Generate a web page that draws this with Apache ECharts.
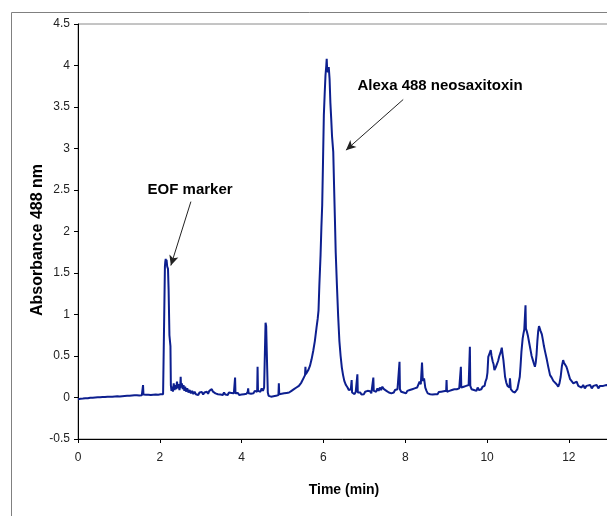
<!DOCTYPE html>
<html>
<head>
<meta charset="utf-8">
<script src="https://cdn.jsdelivr.net/npm/echarts@6/dist/echarts.min.js"></script>
<style>html,body{margin:0;padding:0;background:#fff}#c{width:607px;height:516px}</style>
</head>
<body>
<div id="c"></div>
<script>
// Axis settings / tick labels
const xTicks = [0, 2, 4, 6, 8, 10, 12];
const yTicks = [-0.5, 0, 0.5, 1, 1.5, 2, 2.5, 3, 3.5, 4, 4.5];
const xTitle = 'Time (min)';
const yTitle = 'Absorbance 488 nm';

// Trace segments [time (min), absorbance]
const baselineStart = [[0,-0.02],[0.03,0.0],[0.06,-0.015],[0.09,0.002],[0.12,-0.012],[0.15,0.004],[0.18,-0.008],[0.21,0.006],[0.24,-0.01],[0.27,0.008],[0.3,-0.004],[0.33,0.01],[0.36,-0.002],[0.39,0.012],[0.42,0.0],[0.45,0.014],[0.48,0.002],[0.51,0.012],[0.54,0.004],[0.57,0.016],[0.6,0.006],[0.63,0.018],[0.66,0.005],[0.69,0.015],[0.72,0.008],[0.75,0.02],[0.78,0.01],[0.81,0.02],[0.84,0.008],[0.87,0.022],[0.9,0.012],[0.93,0.024],[0.96,0.014],[0.99,0.026],[1.02,0.012],[1.05,0.024],[1.08,0.016],[1.11,0.03],[1.14,0.018],[1.17,0.032],[1.2,0.02],[1.23,0.03],[1.26,0.022],[1.29,0.036],[1.32,0.024],[1.35,0.04],[1.38,0.026],[1.41,0.038],[1.44,0.028],[1.47,0.034],[1.5,0.024],[1.53,0.036],[1.56,0.026],[1.58,0.03],[1.59,0.15],[1.6,0.035],[1.63,0.022],[1.66,0.034],[1.69,0.02],[1.72,0.032],[1.75,0.018],[1.78,0.03],[1.81,0.02],[1.84,0.034],[1.87,0.022],[1.9,0.036],[1.93,0.024],[1.96,0.034],[1.99,0.026],[2.02,0.038],[2.05,0.028],[2.08,0.04],[2.11,0.045]];
const eofPeak = [[2.12,0.06],[2.125,1.58],[2.135,1.64],[2.145,1.67],[2.155,1.6],[2.165,1.66],[2.18,1.58],[2.2,1.55],[2.215,1.3],[2.235,0.75],[2.26,0.62],[2.27,0.15],[2.285,0.08]];
const midSection = [[2.3,0.13],[2.32,0.07],[2.34,0.17],[2.36,0.09],[2.38,0.15],[2.4,0.1],[2.42,0.19],[2.44,0.11],[2.46,0.16],[2.48,0.09],[2.5,0.14],[2.51,0.25],[2.52,0.12],[2.54,0.17],[2.56,0.1],[2.58,0.15],[2.6,0.08],[2.62,0.13],[2.64,0.07],[2.67,0.11],[2.7,0.06],[2.73,0.09],[2.76,0.05],[2.79,0.08],[2.82,0.04],[2.85,0.07],[2.88,0.04],[2.91,0.06],[2.94,0.03],[2.97,0.06],[3.0,0.04],[3.03,0.065],[3.06,0.035],[3.09,0.06],[3.12,0.04],[3.15,0.07],[3.18,0.045],[3.21,0.08],[3.24,0.06],[3.27,0.1],[3.3,0.07],[3.33,0.09],[3.36,0.05],[3.39,0.07],[3.42,0.04],[3.45,0.06],[3.48,0.035],[3.51,0.055],[3.54,0.03],[3.57,0.06],[3.6,0.035],[3.63,0.055],[3.66,0.03],[3.69,0.06],[3.72,0.04],[3.75,0.055],[3.78,0.035],[3.81,0.05],[3.83,0.04],[3.84,0.24],[3.85,0.05],[3.88,0.035],[3.91,0.055],[3.94,0.03],[3.97,0.05],[4.0,0.035],[4.03,0.055],[4.06,0.04],[4.09,0.06],[4.12,0.045],[4.15,0.07],[4.16,0.11],[4.17,0.05],[4.2,0.06],[4.23,0.045],[4.26,0.065],[4.29,0.05],[4.32,0.08],[4.35,0.06],[4.38,0.07],[4.39,0.37],[4.4,0.08],[4.43,0.1],[4.46,0.07],[4.49,0.11],[4.52,0.08],[4.55,0.12],[4.57,0.1],[4.585,0.9],[4.6,0.86],[4.615,0.55],[4.625,0.35],[4.64,0.06],[4.66,0.02],[4.69,0.035],[4.72,0.01],[4.75,0.03],[4.78,0.015],[4.81,0.035],[4.84,0.02],[4.87,0.04],[4.9,0.03],[4.91,0.17],[4.92,0.04],[4.95,0.03],[4.98,0.045],[5.01,0.03],[5.04,0.05],[5.07,0.035],[5.1,0.055],[5.13,0.04],[5.16,0.06]];
const mainPeak = [[5.19,0.05],[5.22,0.08],[5.25,0.07],[5.28,0.1],[5.31,0.09],[5.34,0.12],[5.37,0.11],[5.4,0.14],[5.43,0.15],[5.46,0.18],[5.49,0.2],[5.52,0.24],[5.55,0.27],[5.56,0.37],[5.57,0.28],[5.6,0.3],[5.63,0.33],[5.67,0.38],[5.71,0.46],[5.75,0.56],[5.79,0.68],[5.83,0.84],[5.86,0.95],[5.88,1.05],[5.9,1.35],[5.93,1.72],[5.95,2.05],[5.97,2.32],[5.99,2.85],[6.01,3.4],[6.03,3.65],[6.05,3.88],[6.07,4.0],[6.08,4.08],[6.09,3.96],[6.11,3.92],[6.13,3.98],[6.15,3.84],[6.17,3.55],[6.19,3.36],[6.21,3.15],[6.24,2.96],[6.26,2.55],[6.28,2.16],[6.3,1.75],[6.33,1.35],[6.36,0.98],[6.39,0.68],[6.42,0.5],[6.45,0.36],[6.48,0.27],[6.51,0.2],[6.55,0.15],[6.59,0.12],[6.62,0.09],[6.65,0.07]];
const lateSection = [[6.67,0.1],[6.69,0.21],[6.7,0.06],[6.73,0.08],[6.76,0.04],[6.79,0.07],[6.82,0.05],[6.83,0.28],[6.84,0.06],[6.87,0.04],[6.9,0.06],[6.93,0.035],[6.96,0.055],[6.99,0.04],[7.02,0.07],[7.05,0.05],[7.08,0.08],[7.11,0.06],[7.14,0.075],[7.17,0.05],[7.2,0.07],[7.22,0.24],[7.23,0.08],[7.26,0.1],[7.29,0.07],[7.32,0.11],[7.35,0.08],[7.38,0.12],[7.41,0.09],[7.44,0.13],[7.46,0.15],[7.48,0.1],[7.51,0.12],[7.54,0.08],[7.57,0.1],[7.6,0.06],[7.63,0.08],[7.66,0.05],[7.69,0.07],[7.72,0.06],[7.75,0.09],[7.78,0.07],[7.81,0.1],[7.84,0.08],[7.86,0.43],[7.87,0.1],[7.9,0.07],[7.93,0.09],[7.96,0.06],[7.99,0.08],[8.02,0.05],[8.05,0.08],[8.08,0.06],[8.11,0.09],[8.14,0.07],[8.17,0.1],[8.2,0.08],[8.23,0.11],[8.26,0.09],[8.29,0.12],[8.32,0.14],[8.35,0.19],[8.38,0.16],[8.41,0.42],[8.43,0.2],[8.46,0.23],[8.49,0.12],[8.52,0.08],[8.55,0.05],[8.58,0.07],[8.61,0.04],[8.64,0.06],[8.67,0.035],[8.7,0.055],[8.73,0.04],[8.76,0.06],[8.79,0.04],[8.82,0.065],[8.85,0.045],[8.88,0.07],[8.91,0.05],[8.94,0.075],[8.97,0.055],[9.0,0.08],[9.01,0.21],[9.02,0.07],[9.05,0.06],[9.08,0.08],[9.11,0.07],[9.14,0.09],[9.17,0.07],[9.2,0.1],[9.23,0.08],[9.26,0.1],[9.29,0.09],[9.32,0.11],[9.35,0.1],[9.36,0.37],[9.37,0.12],[9.4,0.1],[9.43,0.13],[9.46,0.11],[9.49,0.14],[9.52,0.12],[9.55,0.15],[9.57,0.13],[9.58,0.61],[9.59,0.14],[9.62,0.1],[9.65,0.12],[9.68,0.09],[9.71,0.11],[9.74,0.08],[9.77,0.12],[9.8,0.09],[9.83,0.11],[9.86,0.1],[9.89,0.13]];
const clusterSection = [[9.91,0.15],[9.94,0.14],[9.96,0.19],[9.99,0.23],[10.01,0.3],[10.03,0.49],[10.06,0.53],[10.09,0.57],[10.11,0.5],[10.14,0.43],[10.16,0.4],[10.18,0.33],[10.21,0.36],[10.24,0.38],[10.27,0.44],[10.3,0.5],[10.33,0.54],[10.36,0.6],[10.38,0.52],[10.4,0.45],[10.42,0.35],[10.44,0.25],[10.47,0.18],[10.5,0.14],[10.53,0.12],[10.55,0.12],[10.56,0.23],[10.58,0.1],[10.6,0.09],[10.63,0.07],[10.66,0.09],[10.68,0.06],[10.71,0.08],[10.74,0.1],[10.77,0.12],[10.8,0.25],[10.82,0.39],[10.84,0.55],[10.87,0.71],[10.89,0.77],[10.91,0.82],[10.93,0.8],[10.94,1.11],[10.95,0.83],[10.97,0.8],[11.0,0.74],[11.03,0.66],[11.06,0.58],[11.09,0.5],[11.12,0.45],[11.15,0.4],[11.17,0.37],[11.19,0.42],[11.21,0.52],[11.23,0.68],[11.25,0.8],[11.27,0.86],[11.29,0.84],[11.31,0.8],[11.34,0.76],[11.37,0.68],[11.39,0.62],[11.42,0.55],[11.46,0.46],[11.5,0.36],[11.54,0.27],[11.58,0.24],[11.62,0.2],[11.66,0.19],[11.7,0.16],[11.74,0.13],[11.77,0.17],[11.8,0.25],[11.83,0.38],[11.86,0.45],[11.88,0.42],[11.91,0.43],[11.94,0.37],[11.96,0.34],[12.0,0.27],[12.03,0.22],[12.07,0.2],[12.11,0.17],[12.15,0.16],[12.19,0.19],[12.23,0.14],[12.27,0.16],[12.31,0.12],[12.35,0.15],[12.39,0.11],[12.43,0.14],[12.47,0.12],[12.52,0.15],[12.56,0.11],[12.6,0.14],[12.64,0.12],[12.68,0.15],[12.72,0.11],[12.76,0.14],[12.8,0.12],[12.84,0.14],[12.88,0.12],[12.92,0.15],[12.96,0.13],[13.0,0.14],[13.1,0.13],[13.2,0.14],[13.3,0.13],[13.42,0.14],[13.55,0.13],[13.69,0.14]];

// Annotations: label text and positions in data coordinates
const annotationLabels = ['EOF marker', 'Alexa 488 neosaxitoxin'];
const annotationTextAt = [[2.74, 2.5], [8.85, 3.75]];
const arrowFrom = [[2.76, 2.36], [7.95, 3.59]];
const arrowTo = [[2.27, 1.59], [6.55, 2.98]];

const trace = [].concat(baselineStart, eofPeak, midSection, mainPeak, lateSection, clusterSection);

const chart = echarts.init(document.getElementById('c'), null, {renderer: 'canvas', width: 607, height: 516});
const FONT = "'Liberation Sans', Arial, sans-serif";
const NARROW = "'Liberation Sans Narrow', 'Liberation Sans', Arial, sans-serif";

chart.setOption({
  animation: false,
  backgroundColor: '#ffffff',
  grid: {left: 78, top: 24, width: 560, height: 415, outerBoundsMode: 'none', containLabel: false,
    show: true, borderColor: '#8a8a8a', borderWidth: 1},
  xAxis: {
    type: 'value', min: xTicks[0], max: 13.69, interval: 2,
    name: xTitle, nameLocation: 'middle', nameGap: 44,
    nameTextStyle: {fontFamily: FONT, fontWeight: 'bold', fontSize: 14, color: '#000', padding: [0, 28, 0, 0]},
    axisLine: {show: true, onZero: false, lineStyle: {color: '#000', width: 1}},
    axisTick: {show: true, inside: false, length: 4, lineStyle: {color: '#000'}},
    axisLabel: {margin: 13, fontFamily: NARROW, fontSize: 12, color: '#222',
      formatter: v => (xTicks.indexOf(v) >= 0 ? String(v) : '')},
    splitLine: {show: false}
  },
  yAxis: {
    type: 'value', min: yTicks[0], max: yTicks[yTicks.length - 1], interval: 0.5,
    axisLine: {show: true, onZero: false, lineStyle: {color: '#000', width: 1}},
    axisTick: {show: true, inside: false, length: 4, lineStyle: {color: '#000'}},
    axisLabel: {margin: 8, fontFamily: NARROW, fontSize: 12, color: '#222'},
    splitLine: {show: false}
  },
  graphic: [
    {type: 'rect', shape: {x: 11.5, y: 12.5, width: 700, height: 600}, style: {fill: 'none', stroke: '#808080', lineWidth: 1}, z: -1, silent: true},
    {type: 'text', x: 38, y: 240, rotation: Math.PI / 2, silent: true,
      style: {text: yTitle, font: "bold 16px " + FONT, fill: '#000', textAlign: 'center', textVerticalAlign: 'middle', align: 'center', verticalAlign: 'middle'}}
  ],
  series: [{
    type: 'line',
    data: trace,
    showSymbol: false,
    symbol: 'none',
    lineStyle: {color: '#0d1f8f', width: 2},
    itemStyle: {color: '#0d1f8f'},
    markLine: {
      silent: true,
      symbol: ['none', 'arrow'],
      symbolSize: [7, 10],
      lineStyle: {color: '#222', width: 1, type: 'solid'},
      label: {show: false},
      data: arrowFrom.map((p, i) => [{coord: p}, {coord: arrowTo[i]}])
    },
    markPoint: {
      silent: true,
      symbol: 'circle',
      symbolSize: 0,
      label: {show: true, position: 'inside', formatter: '{b}', fontFamily: FONT, fontWeight: 'bold', fontSize: 15, color: '#000'},
      data: annotationLabels.map((t, i) => ({name: t, coord: annotationTextAt[i]}))
    }
  }]
});
</script>
</body>
</html>
